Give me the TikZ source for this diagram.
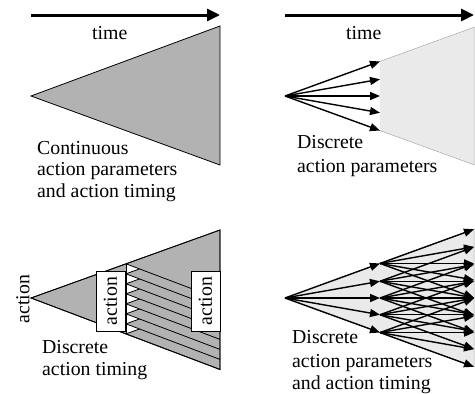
\documentclass[tikz,border=0pt]{standalone}
\usepackage{fontspec}
\setmainfont{Liberation Serif}
\usetikzlibrary{arrows.meta}
\definecolor{dgray}{RGB}{178,178,178}
\definecolor{lgray}{RGB}{234,234,234}
\definecolor{edgegray}{RGB}{170,170,170}
\begin{document}
\begin{tikzpicture}[x=1pt,y=-1pt,
  lbl/.style={font=\fontsize{19.8}{22}\selectfont, inner sep=0pt, anchor=base west},
  timearrow/.style={line width=3pt, -{Triangle[length=13pt,width=12pt]}},
  cone/.style={draw=black, line width=0.8pt, line join=miter},
  fan/.style={line width=1.4pt, -{Triangle[length=10pt,width=8pt]}},
  actbox/.style={draw=black, fill=white, line width=0.9pt, minimum width=60pt, minimum height=29pt, inner sep=0pt, rotate=90, font=\fontsize{19.8}{22}\selectfont},
  lightedge/.style={draw=edgegray, line width=0.5pt}
]
\useasboundingbox (0,0) rectangle (475,394);

% ---------- top left ----------
\coordinate (ta1s) at (31,15); \coordinate (ta1e) at (220,15);
\draw[timearrow] (ta1s) -- (ta1e);
\node[lbl] (time1) at (92,39) {time};
\coordinate (A1) at (31,96); \coordinate (B1) at (220,26); \coordinate (C1) at (220,165);
\filldraw[cone, fill=dgray] (A1) -- (B1) -- (C1) -- cycle;
\node[lbl] (tl1) at (37,154) {Continuous};
\node[lbl] (tl2) at (37,175.5) {action parameters};
\node[lbl] (tl3) at (37,197.5) {and action timing};

% ---------- top right ----------
\coordinate (ta2s) at (285,15); \coordinate (ta2e) at (474,15);
\draw[timearrow] (ta2s) -- (ta2e);
\node[lbl] (time2) at (346,39) {time};
\coordinate (A2) at (285,96);
\coordinate (B2) at (474,{96-189*tan(20)});
\coordinate (C2) at (474,{96+189*tan(20)});
\foreach \i/\a in {1/-20,2/-10,3/0,4/10,5/20}{
  \coordinate (E\i) at (380,{96+95*tan(\a)});
}
\fill[lgray] (E1) -- (B2) -- (C2) -- (E5) -- cycle;
\draw[lightedge] (E1) -- (B2) -- (C2) -- (E5);
\foreach \i in {1,...,5}{
  \draw[fan] (A2) -- (E\i);
}
\node[lbl] (tr1) at (297,148) {Discrete};
\node[lbl] (tr2) at (297,172) {action parameters};

% ---------- bottom left ----------
\coordinate (A3) at (31,298); \coordinate (B3) at (220,230); \coordinate (C3) at (220,369.5);
\filldraw[cone, fill=dgray] (A3) -- (B3) -- (C3) -- cycle;
\begin{scope}
  \clip (A3) -- (B3) -- (C3) -- cycle;
  \fill[white] (126,220) rectangle (221,380);
  \foreach \k in {7,6,...,0}{
    \pgfmathsetmacro{\yk}{263.8+10.01*\k}
    \coordinate (M\k) at (126,\yk);
    \filldraw[cone, fill=dgray] (M\k) -- ++(94,{-68*94/189}) -- ++(0,{139.5*94/189}) -- cycle;
  }
\end{scope}
\draw[line width=0.8pt] (M0) -- (M7);
\draw[cone] (A3) -- (B3) -- (C3) -- cycle;
\node[actbox] (box1) at (110.5,301) {action};
\node[actbox] (box2) at (205.5,301) {action};
\node[font=\fontsize{19.8}{22}\selectfont, inner sep=0pt, rotate=90] (actlbl) at (23,299) {action};
\node[lbl] (bl1) at (42,353) {Discrete};
\node[lbl] (bl2) at (42,375) {action timing};

% ---------- bottom right ----------
\coordinate (A4) at (285,298);
\coordinate (B4) at (474,{298-189*tan(20)});
\coordinate (C4) at (474,{298+189*tan(20)});
\fill[lgray] (A4) -- (B4) -- (C4) -- cycle;
\draw[lightedge] (A4) -- (B4) -- (C4) -- cycle;
\foreach \i/\a in {1/-20,2/-10,3/0,4/10,5/20}{
  \coordinate (F\i) at (380,{298+95*tan(\a)});
  \foreach \j/\b in {1/-20,2/-10,3/0,4/10,5/20}{
    \coordinate (G\i\j) at (474,{298+95*tan(\a)+94*tan(\b)});
  }
}
\foreach \i in {1,...,5}{
  \draw[fan] (A4) -- (F\i);
  \foreach \j in {1,...,5}{
    \draw[fan] (F\i) -- (G\i\j);
  }
}
\node[lbl] (br1) at (292,343) {Discrete};
\node[lbl] (br2) at (292,367) {action parameters};
\node[lbl] (br3) at (292,389) {and action timing};
\end{tikzpicture}
\end{document}
